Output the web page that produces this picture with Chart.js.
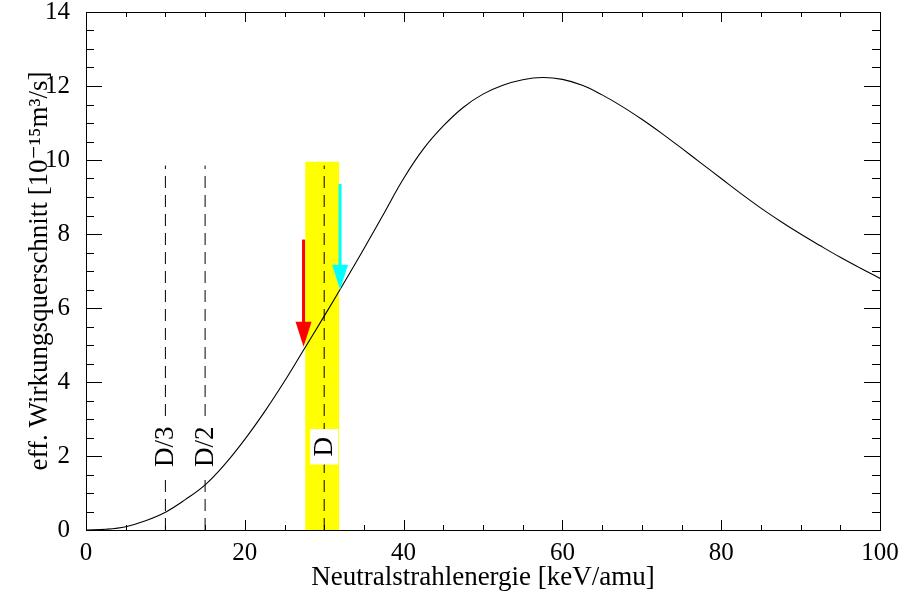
<!DOCTYPE html>
<html>
<head>
<meta charset="utf-8">
<script src="https://cdn.jsdelivr.net/npm/chart.js@4"></script>
<style>
  body { margin: 0; background: #fff; }
</style>
</head>
<body>
<canvas id="rateChart" width="900" height="595"></canvas>
<script>
// Effective cross section vs. neutral beam energy

const energy = [0, 2.5, 5, 7.5, 10, 12.5, 15, 17.5, 20, 22.5, 25, 27.5, 30, 32.5, 35, 37.5, 40,
    42.5, 45, 47.5, 50, 52.5, 55, 57.5, 60, 62.5, 65, 67.5, 70, 72.5, 75, 77.5, 80,
    82.5, 85, 87.5, 90, 92.5, 95, 97.5, 100];
const rate = [0, 0.02, 0.09, 0.25, 0.48, 0.82, 1.22, 1.78, 2.45, 3.2, 4.02, 4.9, 5.78, 6.68, 7.6, 8.55, 9.5,
    10.3, 10.92, 11.42, 11.78, 12.02, 12.17, 12.23, 12.18, 12.02, 11.76, 11.45, 11.1, 10.72, 10.32, 9.91, 9.5,
    9.09, 8.7, 8.34, 8.0, 7.68, 7.37, 7.08, 6.8];

const xTicks = [0, 20, 40, 60, 80, 100];
const yTicks = [0, 2, 4, 6, 8, 10, 12, 14];

// dashed markers for D/3, D/2, D
const markerX = [10, 15, 30];
const markerLabels = ['D/3', 'D/2', 'D'];
const markerTop = 9.85;
const labelY = 2.25;

// yellow band around D
const bandX = [27.6, 31.9];
const bandTop = 9.95;

// arrows
const arrowX = [27.4, 32.0];
const arrowFrom = [7.85, 9.35];
const arrowTo = [4.95, 6.49];
const arrowColors = ['#ff0000', '#00ffff'];

const serif = '"Liberation Serif", "DejaVu Serif", serif';

const datasets = [];
datasets.push({
    data: [{x: bandX[0], y: bandTop}, {x: bandX[1], y: bandTop}],
    borderWidth: 0,
    backgroundColor: '#ffff00',
    fill: 'origin',
    pointRadius: 0,
    order: 3
});
markerX.forEach(mx => {
    datasets.push({
        data: [{x: mx, y: 0}, {x: mx, y: markerTop}],
        borderColor: '#000',
        borderWidth: 1,
        borderDash: [12, 7],
        pointRadius: 0,
        order: 2
    });
});
datasets.push({
    data: energy.map((e, i) => ({x: e, y: rate[i]})),
    borderColor: '#000',
    borderWidth: 1.1,
    tension: 0.4,
    pointRadius: 0,
    order: 1
});
// datasets with the same order are drawn from the highest index down,
// so dataset 1 is the last dashed line painted
const lastMarkerIndex = 1;

function drawLabels(chart) {
    const ctx = chart.ctx;
    const xs = chart.scales.x, ys = chart.scales.y;
    ctx.save();
    ctx.font = '27px ' + serif;
    ctx.textAlign = 'center';
    ctx.textBaseline = 'middle';
    markerX.forEach((mx, i) => {
        const px = xs.getPixelForValue(mx);
        const py = ys.getPixelForValue(labelY);
        const w = ctx.measureText(markerLabels[i]).width;
        ctx.save();
        ctx.translate(px, py);
        ctx.rotate(-Math.PI / 2);
        ctx.fillStyle = '#fff';
        ctx.fillRect(-w / 2 - 8, -14, w + 16, 28);
        ctx.fillStyle = '#000';
        ctx.fillText(markerLabels[i], 0, 1);
        ctx.restore();
    });
    ctx.restore();
}

// box, inward ticks, arrows and rotated labels
const decorations = {
    id: 'decorations',
    afterDatasetDraw(chart, args) {
        // labels sit on top of the dashed lines but under the curve
        if (args.index === lastMarkerIndex) drawLabels(chart);
    },
    afterDatasetsDraw(chart) {
        const ctx = chart.ctx;
        const xs = chart.scales.x, ys = chart.scales.y;
        const a = chart.chartArea;

        // arrows
        arrowX.forEach((ax, i) => {
            const px = xs.getPixelForValue(ax);
            const top = ys.getPixelForValue(arrowFrom[i]);
            const tip = ys.getPixelForValue(arrowTo[i]);
            const headLen = 25, headW = 8;
            ctx.save();
            ctx.strokeStyle = arrowColors[i];
            ctx.fillStyle = arrowColors[i];
            ctx.lineWidth = 3;
            ctx.beginPath();
            ctx.moveTo(px, top);
            ctx.lineTo(px, tip - headLen + 1);
            ctx.stroke();
            ctx.beginPath();
            ctx.moveTo(px - headW, tip - headLen);
            ctx.lineTo(px + headW, tip - headLen);
            ctx.lineTo(px, tip);
            ctx.closePath();
            ctx.fill();
            ctx.restore();
        });

        // box
        ctx.save();
        ctx.strokeStyle = '#000';
        ctx.lineWidth = 1;
        ctx.strokeRect(Math.round(a.left) + 0.5, Math.round(a.top) + 0.5,
            Math.round(a.right - a.left), Math.round(a.bottom - a.top));

        // ticks pointing inward
        ctx.beginPath();
        for (let v = 0; v <= 100; v += 5) {
            const px = Math.round(xs.getPixelForValue(v)) + 0.5;
            const len = v % 20 === 0 ? 10 : 5;
            ctx.moveTo(px, a.bottom); ctx.lineTo(px, a.bottom - len);
            ctx.moveTo(px, a.top); ctx.lineTo(px, a.top + len);
        }
        for (let v = 0; v <= 14; v += 0.5) {
            const py = Math.round(ys.getPixelForValue(v)) + 0.5;
            const len = v % 2 === 0 ? 16 : 8;
            ctx.moveTo(a.left, py); ctx.lineTo(a.left + len, py);
            ctx.moveTo(a.right, py); ctx.lineTo(a.right - len, py);
        }
        ctx.stroke();
        ctx.restore();
    }
};

new Chart(document.getElementById('rateChart').getContext('2d'), {
    type: 'line',
    data: { datasets: datasets },
    options: {
        responsive: false,
        animation: false,
        layout: { padding: { top: 12, right: 20, left: 0, bottom: 0 } },
        plugins: {
            legend: { display: false },
            tooltip: { enabled: false }
        },
        scales: {
            x: {
                type: 'linear',
                min: 0,
                max: 100,
                afterFit: s => { s.height = 65; s.paddingLeft = 0; s.paddingRight = 0; },
                afterBuildTicks: s => { s.ticks = xTicks.map(v => ({value: v})); },
                grid: { display: false },
                border: { display: false },
                ticks: { color: '#000', padding: 0, font: { family: serif, size: 25 } },
                title: {
                    display: true,
                    text: 'Neutralstrahlenergie [keV/amu]',
                    color: '#000',
                    padding: { top: 0, bottom: 1 },
                    font: { family: serif, size: 27 }
                }
            },
            y: {
                type: 'linear',
                min: 0,
                max: 14,
                afterFit: s => { s.width = 86; s.paddingTop = 0; s.paddingBottom = 0; },
                afterBuildTicks: s => { s.ticks = yTicks.map(v => ({value: v})); },
                grid: { display: false },
                border: { display: false },
                ticks: { color: '#000', padding: 8, font: { family: serif, size: 25 } },
                title: {
                    display: true,
                    text: 'eff. Wirkungsquerschnitt [10⁻¹⁵m³/s]',
                    color: '#000',
                    padding: { top: 24, bottom: 0 },
                    font: { family: serif, size: 27 }
                }
            }
        }
    },
    plugins: [decorations]
});
</script>
</body>
</html>
